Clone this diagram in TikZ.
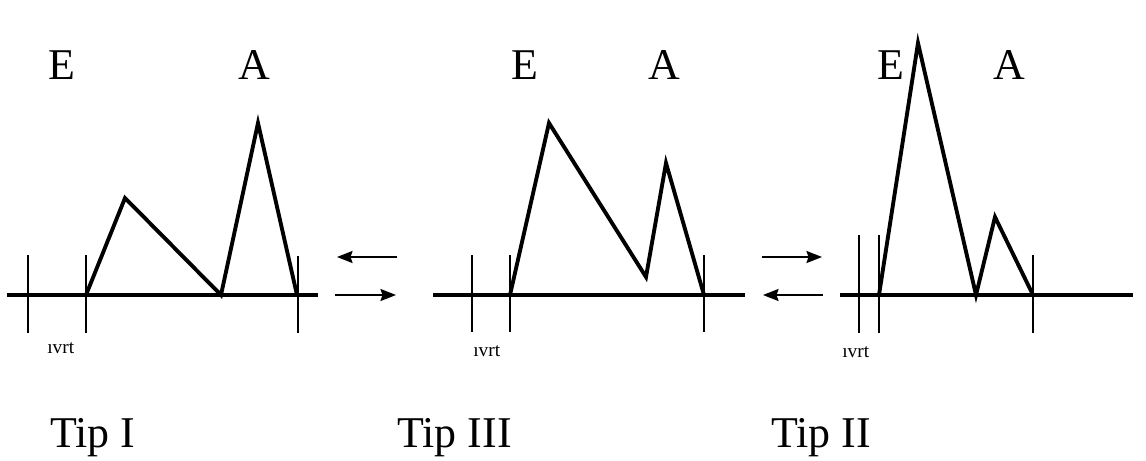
\documentclass[tikz,border=0pt]{standalone}
\usepackage{fontspec}
\setmainfont{Liberation Serif}
\usetikzlibrary{arrows.meta}
\tikzset{
  axis/.style={line width=1.8pt},
  tick/.style={line width=1.1pt},
  wave/.style={line width=2.2pt,line join=miter},
  trans/.style={-{Stealth[length=3.1mm,width=2.4mm,inset=0.4mm]},line width=1.2pt},
  peak/.style={font=\fontsize{25}{28}\selectfont,inner sep=0pt,anchor=base},
  ivrt/.style={font=\fontsize{11}{12}\selectfont,inner sep=0pt,anchor=base west},
  tiplbl/.style={font=\fontsize{25}{28}\selectfont,inner sep=0pt,anchor=base west},
}
\begin{document}
\begin{tikzpicture}[x=0.02cm,y=-0.02cm]
  \useasboundingbox (0,0) rectangle (1146,460);

  % Tip I
  \draw[axis] (7,295) -- (318,295);
  \foreach \x in {28,86} \draw[tick] (\x,255) -- (\x,333);
  \draw[tick] (298,256) -- (298,333);
  \coordinate (s1) at (86,295);
  \coordinate (e1) at (125,198);
  \coordinate (m1) at (221,295);
  \coordinate (a1) at (258,123);
  \coordinate (f1) at (297,295);
  \draw[wave] (s1) -- (e1) -- (m1) -- (a1) -- (f1);
  \node[peak] (lE1) at (62,79) {E};
  \node[peak] (lA1) at (254,79) {A};
  \node[ivrt] (iv1) at (47,353) {ıvrt};
  \node[tiplbl] (tip1) at (50,447) {Tip I};

  % Tip III
  \draw[axis] (433,295) -- (745,295);
  \foreach \x in {472,510,704} \draw[tick] (\x,255) -- (\x,332);
  \coordinate (s2) at (510,295);
  \coordinate (e2) at (549,123);
  \coordinate (m2) at (646,277);
  \coordinate (a2) at (666,163);
  \coordinate (f2) at (704,295);
  \draw[wave] (s2) -- (e2) -- (m2) -- (a2) -- (f2);
  \node[peak] (lE2) at (525,79) {E};
  \node[peak] (lA2) at (664,79) {A};
  \node[ivrt] (iv2) at (473,356) {ıvrt};
  \node[tiplbl] (tip3) at (397,447) {Tip III};

  % Tip II
  \draw[axis] (840,295) -- (1133,295);
  \foreach \x in {859,879} \draw[tick] (\x,235) -- (\x,333);
  \draw[tick] (1033,255) -- (1033,333);
  \coordinate (s3) at (879,295);
  \coordinate (e3) at (918,43);
  \coordinate (m3) at (976,295);
  \coordinate (a3) at (995,217);
  \coordinate (f3) at (1033,295);
  \draw[wave] (s3) -- (e3) -- (m3) -- (a3) -- (f3);
  \node[peak] (lE3) at (891,79) {E};
  \node[peak] (lA3) at (1009,79) {A};
  \node[ivrt] (iv3) at (842,357) {ıvrt};
  \node[tiplbl] (tip2) at (771,447) {Tip II};

  % transitions
  \coordinate (p1t) at (397,257); \coordinate (p1u) at (337,257);
  \coordinate (p1b) at (335,295); \coordinate (p1c) at (396,295);
  \coordinate (p2t) at (762,257); \coordinate (p2u) at (822,257);
  \coordinate (p2b) at (823,295); \coordinate (p2c) at (763,295);
  \draw[trans] (p1t) -- (p1u);
  \draw[trans] (p1b) -- (p1c);
  \draw[trans] (p2t) -- (p2u);
  \draw[trans] (p2b) -- (p2c);
\end{tikzpicture}
\end{document}
